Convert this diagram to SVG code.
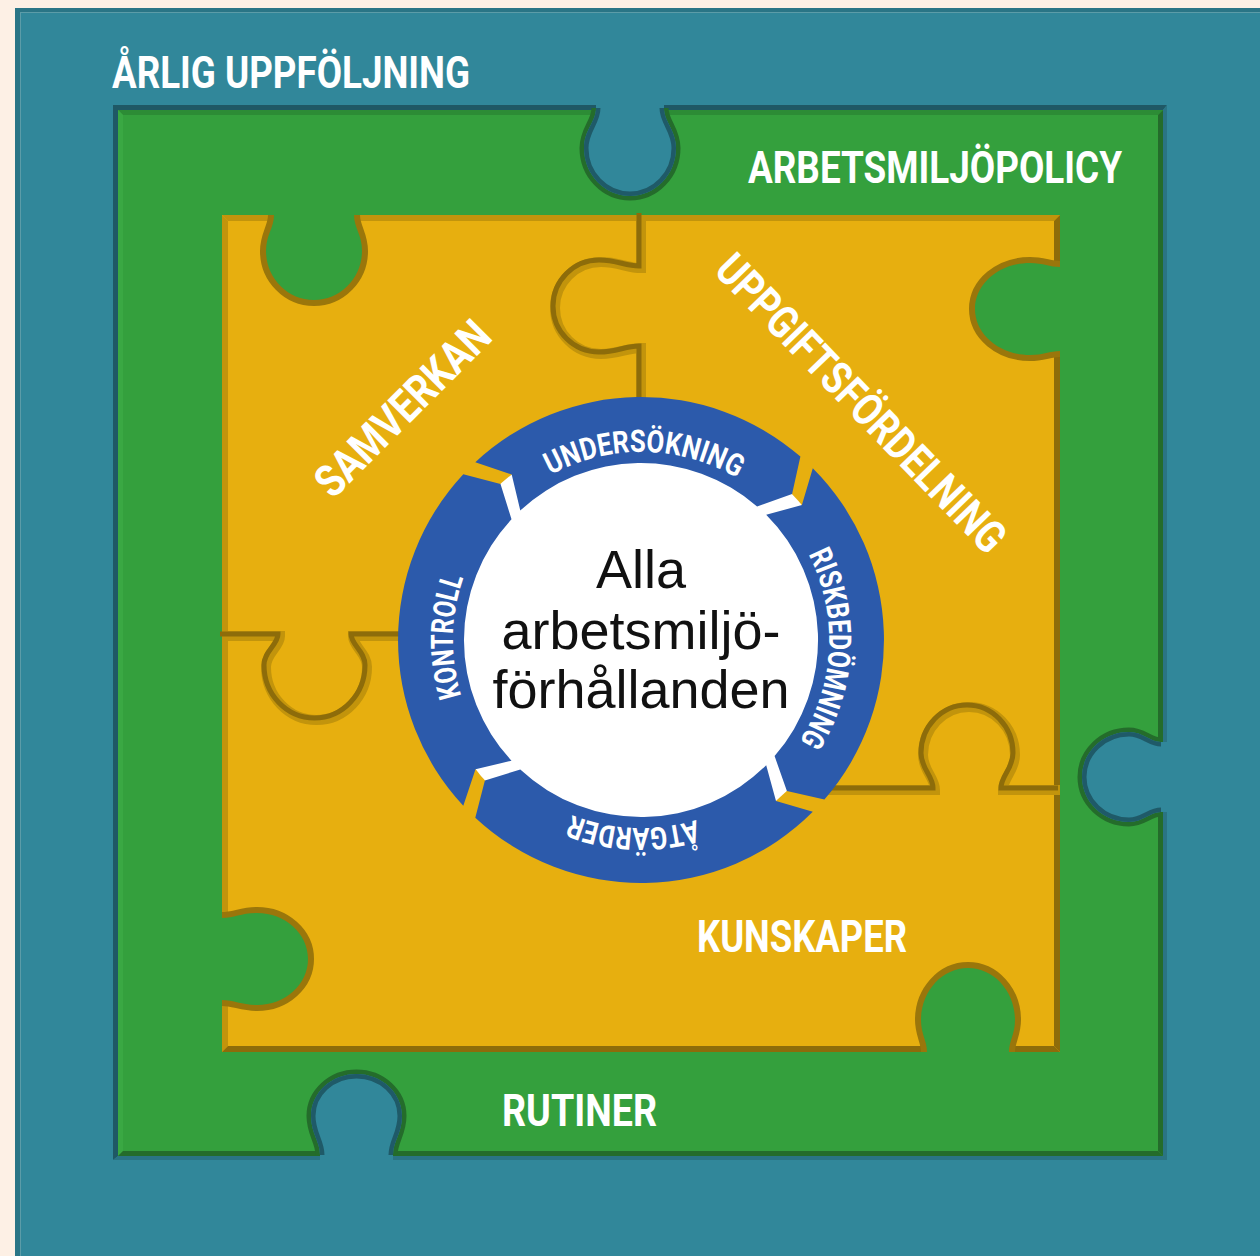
<svg xmlns="http://www.w3.org/2000/svg" width="1260" height="1256" viewBox="0 0 1260 1256">
<style>
.lbl{font-family:Roboto,"Liberation Sans",sans-serif;font-weight:700;fill:#fff;font-size:45px}
.ring{font-family:Roboto,"Liberation Sans",sans-serif;font-weight:700;fill:#fff;font-size:31px}
.ctr{font-family:"Liberation Sans",Arial,sans-serif;font-size:54px;fill:#111;text-anchor:middle}
.teal{fill:#31879a}
.green{fill:#34a03d}
.yellow{fill:#e7af0f}
.grim{fill:none;stroke:#246c2b;stroke-width:9}
.trim{fill:none;stroke:#1f5a68;stroke-width:9}
.yrim{fill:none;stroke:#9a760b;stroke-width:12}
.gmid{fill:none;stroke:#c2940c;stroke-width:10}
.gdark{fill:none;stroke:#8d6c0a;stroke-width:5}
.seg{fill:#2c5aab}
</style>
<defs>
<path id="cT1" d="M-34,0 C-34,14 -46,22 -46,40 C-46,66.5 -25.4,88 0,88 C25.4,88 46,66.5 46,40 C46,22 34,14 34,0"/>
<path id="fT1" d="M-34,0 C-34,14 -46,22 -46,40 C-46,66.5 -25.4,88 0,88 C25.4,88 46,66.5 46,40 C46,22 34,14 34,0 L34,-9 L-34,-9 Z"/>
<path id="cT2" d="M-35,0 C-35,11.2 -45,17.6 -45,32 C-45,57.9 -24.8,79 0,79 C24.8,79 45,57.9 45,32 C45,17.6 35,11.2 35,0"/>
<path id="fT2" d="M-35,0 C-35,11.2 -45,17.6 -45,32 C-45,57.9 -24.8,79 0,79 C24.8,79 45,57.9 45,32 C45,17.6 35,11.2 35,0 L35,-9 L-35,-9 Z"/>
<path id="cT3" d="M-36.5,0 C-36.5,13.65 -45.5,21.45 -45.5,39 C-45.5,62.2 -25.1,81 0,81 C25.1,81 45.5,62.2 45.5,39 C45.5,21.45 36.5,13.65 36.5,0"/>
<path id="fT3" d="M-36.5,0 C-36.5,13.65 -45.5,21.45 -45.5,39 C-45.5,62.2 -25.1,81 0,81 C25.1,81 45.5,62.2 45.5,39 C45.5,21.45 36.5,13.65 36.5,0 L36.5,-9 L-36.5,-9 Z"/>
<clipPath id="kT1"><path d="M-34,0 C-34,14 -46,22 -46,40 C-46,66.5 -25.4,88 0,88 C25.4,88 46,66.5 46,40 C46,22 34,14 34,0 L34,-9 L-34,-9 Z"/></clipPath>
<clipPath id="kT2"><path d="M-35,0 C-35,11.2 -45,17.6 -45,32 C-45,57.9 -24.8,79 0,79 C24.8,79 45,57.9 45,32 C45,17.6 35,11.2 35,0 L35,-9 L-35,-9 Z"/></clipPath>
<clipPath id="kT3"><path d="M-36.5,0 C-36.5,13.65 -45.5,21.45 -45.5,39 C-45.5,62.2 -25.1,81 0,81 C25.1,81 45.5,62.2 45.5,39 C45.5,21.45 36.5,13.65 36.5,0 L36.5,-9 L-36.5,-9 Z"/></clipPath>
<path id="cY1" d="M-40,0 C-40,12.6 -48,19.8 -48,36 C-48,63 -26.5,85 0,85 C26.5,85 48,63 48,36 C48,19.8 40,12.6 40,0"/>
<path id="fY1" d="M-40,0 C-40,12.6 -48,19.8 -48,36 C-48,63 -26.5,85 0,85 C26.5,85 48,63 48,36 C48,19.8 40,12.6 40,0 L40,-9 L-40,-9 Z"/>
<path id="cY2" d="M-42,0 C-42,10.5 -46,16.5 -46,30 C-46,60.4 -25.4,85 0,85 C25.4,85 46,60.4 46,30 C46,16.5 42,10.5 42,0"/>
<path id="fY2" d="M-42,0 C-42,10.5 -46,16.5 -46,30 C-46,60.4 -25.4,85 0,85 C25.4,85 46,60.4 46,30 C46,16.5 42,10.5 42,0 L42,-9 L-42,-9 Z"/>
<path id="cY3" d="M-41,0 C-41,12.25 -46,19.25 -46,35 C-46,63.2 -25.4,86 0,86 C25.4,86 46,63.2 46,35 C46,19.25 41,12.25 41,0"/>
<path id="fY3" d="M-41,0 C-41,12.25 -46,19.25 -46,35 C-46,63.2 -25.4,86 0,86 C25.4,86 46,63.2 46,35 C46,19.25 41,12.25 41,0 L41,-9 L-41,-9 Z"/>
<path id="cY4" d="M-41,0 C-41,11.2 -47,17.6 -47,32 C-47,60.7 -25.9,84 0,84 C25.9,84 47,60.7 47,32 C47,17.6 41,11.2 41,0"/>
<path id="fY4" d="M-41,0 C-41,11.2 -47,17.6 -47,32 C-47,60.7 -25.9,84 0,84 C25.9,84 47,60.7 47,32 C47,17.6 41,11.2 41,0 L41,-9 L-41,-9 Z"/>
<path id="gG1" d="M-93,0 L-40,0 C-40,14 -46,22 -46,40 C-46,65.4 -25.4,86 0,86 C25.4,86 46,65.4 46,40 C46,22 40,14 40,0 L97,0"/>
<path id="gG2" d="M-94.5,0 L-36.5,0 C-36.5,10.85 -50.5,17.05 -50.5,31 C-50.5,60.3 -27.9,84 0,84 C27.9,84 50.5,60.3 50.5,31 C50.5,17.05 36.5,10.85 36.5,0 L92,0"/>
<path id="gG3" d="M-91,0 L-34,0 C-34,12.25 -46,19.25 -46,35 C-46,61.5 -25.4,83 0,83 C25.4,83 46,61.5 46,35 C46,19.25 34,12.25 34,0 L150,0"/>
<path id="ringpath" d="M508.06,507.06 A188,188 0 1 1 773.94,772.94 A188,188 0 1 1 508.06,507.06"/>
</defs>

<rect x="0" y="0" width="1260" height="1256" fill="#fdf0e5"/>

<g id="frame-arlig-uppfoljning">
<rect x="15" y="8" width="1245" height="1248" class="teal"/>
<polygon points="15,8 1260,8 1260,12 20,12 20,1256 15,1256" fill="#2a7586"/>
<line x1="20" y1="12.5" x2="1260" y2="12.5" stroke="#5c9ca8" stroke-width="1"/>
<line x1="20.5" y1="12" x2="20.5" y2="1256" stroke="#5c9ca8" stroke-width="1"/>
</g>

<g id="piece-arbetsmiljopolicy">
<polygon points="113,105 1167,105 1163,110 118,110 118,1156 113,1160" fill="#1f5865"/>
<polygon points="1167,105 1167,1160 113,1160 118,1156 1163,1156 1163,110" fill="#2a7484"/>
<rect x="118" y="110" width="1045" height="1046" class="green"/>
<polygon points="118,110 1163,110 1158,115 123,115" fill="#2c8c35"/>
<polygon points="118,110 123,115 123,1151 118,1156" fill="#3aa843"/>
<polygon points="1163,110 1163,1156 1158,1151 1158,115" fill="#246c2b"/>
<polygon points="118,1156 1163,1156 1158,1151 123,1151" fill="#246c2b"/>
<g transform="translate(630,108)">
<use href="#cT1" class="grim"/><use href="#fT1" class="teal"/><use href="#cT1" class="trim" clip-path="url(#kT1)"/>
</g>
<g transform="translate(1161,777) rotate(90)">
<use href="#cT2" class="grim"/><use href="#fT2" class="teal"/><use href="#cT2" class="trim" clip-path="url(#kT2)"/>
</g>
<g transform="translate(356.5,1155) rotate(180)">
<use href="#cT3" class="grim"/><use href="#fT3" class="teal"/><use href="#cT3" class="trim" clip-path="url(#kT3)"/>
</g>
</g>

<g id="pieces-inner">
<rect x="222" y="215" width="838" height="837" class="yellow"/>
<polygon points="222,215 1060,215 1054,221 228,221" fill="#c2940c"/>
<polygon points="222,215 228,221 228,1046 222,1052" fill="#c2940c"/>
<polygon points="1060,215 1060,1052 1054,1046 1054,221" fill="#8d6c0a"/>
<polygon points="222,1052 1060,1052 1054,1046 228,1046" fill="#8d6c0a"/>
<g id="grooves">
<g transform="translate(641,308) rotate(90)"><use href="#gG1" class="gmid"/></g>
<g transform="translate(316.5,636)"><use href="#gG2" class="gmid"/></g>
<g transform="translate(969,790) rotate(180)"><use href="#gG3" class="gmid"/></g>
<g transform="translate(-2,-2)">
<g transform="translate(641,308) rotate(90)"><use href="#gG1" class="gdark"/></g>
<g transform="translate(316.5,636)"><use href="#gG2" class="gdark"/></g>
<g transform="translate(969,790) rotate(180)"><use href="#gG3" class="gdark"/></g>
</g>
</g>
<g transform="translate(314,215)"><use href="#cY1" class="yrim"/><use href="#fY1" class="green"/></g>
<g transform="translate(1060,309) rotate(90)"><use href="#cY2" class="yrim"/><use href="#fY2" class="green"/></g>
<g transform="translate(222,959) rotate(-90)"><use href="#cY3" class="yrim"/><use href="#fY3" class="green"/></g>
<g transform="translate(968,1052) rotate(180)"><use href="#cY4" class="yrim"/><use href="#fY4" class="green"/></g>
</g>

<g id="cycle">
<circle cx="641" cy="640" r="210" fill="#fff"/>
<path id="seg-undersokning" class="seg" d="M475.3,462.3 A243,243 0 0 1 800.4,456.6 L792.1,494.1 L757.1,506.4 A177,177 0 0 0 520.3,510.5 L511.7,474.5 Z"/>
<path id="seg-riskbedomning" class="seg" d="M812.8,468.2 A243,243 0 0 1 824.4,799.4 L786.9,791.1 L774.6,756.1 A177,177 0 0 0 766.2,514.8 L801.9,505.0 Z"/>
<path id="seg-atgarder" class="seg" d="M812.8,811.8 A243,243 0 0 1 475.3,817.7 L484.9,780.5 L520.3,769.5 A177,177 0 0 0 766.2,765.2 L776.0,800.9 Z"/>
<path id="seg-kontroll" class="seg" d="M463.3,805.7 A243,243 0 0 1 463.3,474.3 L500.5,483.9 L511.5,519.3 A177,177 0 0 0 511.5,760.7 L475.5,769.3 Z"/>
<text class="ring" text-anchor="middle"><textPath href="#ringpath" startOffset="150.9" textLength="195" lengthAdjust="spacingAndGlyphs">UNDERSÖKNING</textPath></text>
<text class="ring" text-anchor="middle"><textPath href="#ringpath" startOffset="451.8" textLength="196" lengthAdjust="spacingAndGlyphs">RISKBEDÖMNING</textPath></text>
<text class="ring" text-anchor="middle"><textPath href="#ringpath" startOffset="745.8" textLength="127" lengthAdjust="spacingAndGlyphs">ÅTGÄRDER</textPath></text>
<text class="ring" text-anchor="middle"><textPath href="#ringpath" startOffset="1036.9" textLength="120" lengthAdjust="spacingAndGlyphs">KONTROLL</textPath></text>
<text class="ctr" x="641" y="588">Alla</text>
<text class="ctr" x="641" y="649">arbetsmiljö-</text>
<text class="ctr" x="641" y="708">förhållanden</text>
</g>

<g id="labels">
<text class="lbl" x="112" y="88" textLength="358" lengthAdjust="spacingAndGlyphs">ÅRLIG UPPFÖLJNING</text>
<text class="lbl" x="748" y="183" textLength="374" lengthAdjust="spacingAndGlyphs">ARBETSMILJÖPOLICY</text>
<text class="lbl" x="697" y="952" textLength="210" lengthAdjust="spacingAndGlyphs">KUNSKAPER</text>
<text class="lbl" x="502" y="1126" textLength="155" lengthAdjust="spacingAndGlyphs">RUTINER</text>
<text class="lbl" transform="translate(413.5,419.5) rotate(-45)" x="0" y="0" text-anchor="middle" textLength="228" lengthAdjust="spacingAndGlyphs">SAMVERKAN</text>
<text class="lbl" transform="translate(850,414) rotate(46)" x="0" y="0" text-anchor="middle" textLength="395" lengthAdjust="spacingAndGlyphs">UPPGIFTSFÖRDELNING</text>
</g>
</svg>
